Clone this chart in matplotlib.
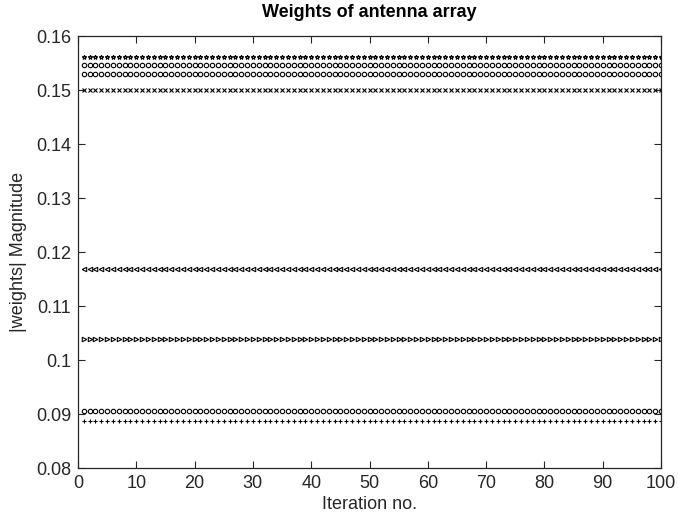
import matplotlib.pyplot as plt
import numpy as np

plt.rcParams['font.family'] = ['Liberation Sans', 'DejaVu Sans']

# |w| per antenna element, constant over the iterations
iterations = np.arange(1, 101)
weights = [0.1562, 0.1547, 0.1530, 0.1500, 0.1168, 0.1039, 0.0906, 0.0888]
markers = ['*', 'o', 'o', 'x', '<', '>', 'o', '+']

fig = plt.figure(figsize=(6.78, 5.23), dpi=100)
ax = fig.add_axes([0.115, 0.105, 0.86, 0.826])

for w, m in zip(weights, markers):
    ax.plot(iterations, np.full(iterations.shape, w), linestyle='none',
            marker=m, markersize=3.2, markerfacecolor='none',
            markeredgecolor='k', markeredgewidth=0.8)

ax.set_xlim(0, 100)
ax.set_ylim(0.08, 0.16)
ax.set_xticks(np.arange(0, 101, 10))
ax.set_yticks(np.arange(0.08, 0.161, 0.01))
ax.set_yticklabels(['0.08', '0.09', '0.1', '0.11', '0.12', '0.13', '0.14', '0.15', '0.16'])
ax.tick_params(direction='in', top=True, right=True, labelsize=13, colors='#262626',
               length=5, pad=5)
for s in ax.spines.values():
    s.set_color('#262626')
    s.set_linewidth(0.9)

ax.set_xlabel('Iteration no.', fontsize=13, color='#262626', labelpad=3)
ax.set_ylabel('|weights| Magnitude', fontsize=13, color='#262626', labelpad=6)
ax.set_title('Weights of antenna array', fontsize=13, fontweight='bold', pad=14)

plt.savefig('out.png')
